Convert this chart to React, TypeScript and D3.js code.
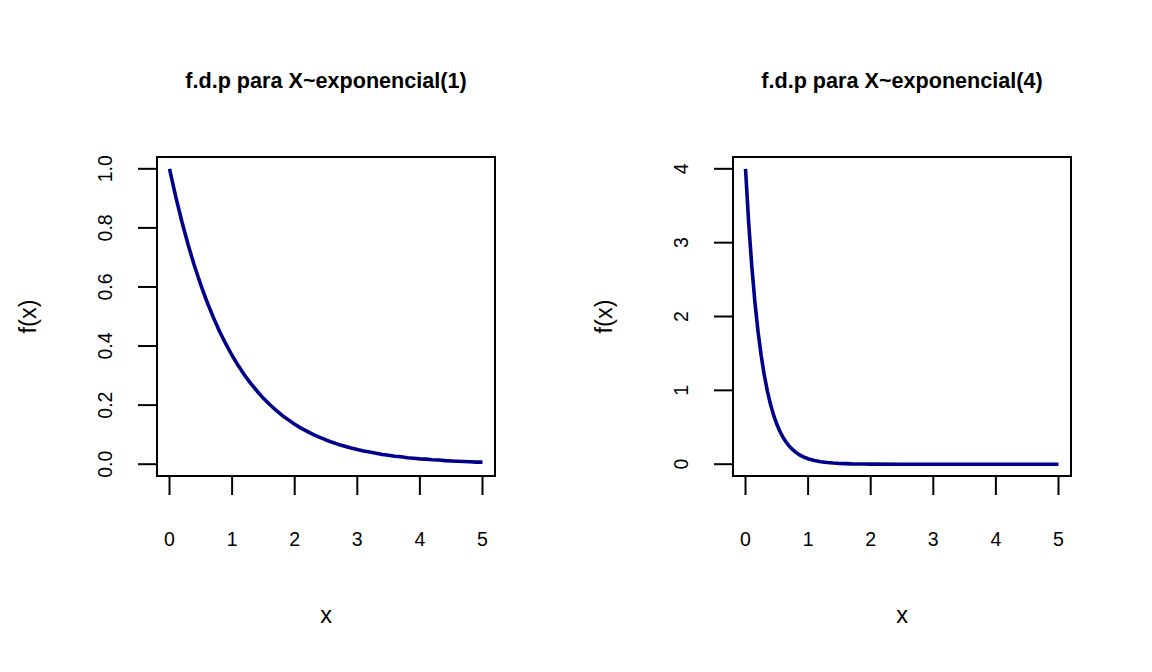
import React from "react";
import * as d3 from "d3";

const titles = ["f.d.p para X~exponencial(1)", "f.d.p para X~exponencial(4)"];
const xLabel = "x";
const yLabel = "f(x)";

const xTicks = [0, 1, 2, 3, 4, 5];
const yTicksLeft = [0, 0.2, 0.4, 0.6, 0.8, 1.0];
const yTicksRight = [0, 1, 2, 3, 4];

const xs1 = [0, 0.1, 0.2, 0.3, 0.4, 0.5, 0.6, 0.7, 0.8, 0.9, 1.0, 1.1, 1.2, 1.3, 1.4, 1.5, 1.6, 1.7, 1.8, 1.9, 2.0, 2.1, 2.2, 2.3, 2.4, 2.5, 2.6, 2.7, 2.8, 2.9, 3.0, 3.1, 3.2, 3.3, 3.4, 3.5, 3.6, 3.7, 3.8, 3.9, 4.0, 4.1, 4.2, 4.3, 4.4, 4.5, 4.6, 4.7, 4.8, 4.9, 5.0];
const ys1 = [1.0, 0.905, 0.819, 0.741, 0.67, 0.607, 0.549, 0.497, 0.449, 0.407, 0.368, 0.333, 0.301, 0.273, 0.247, 0.223, 0.202, 0.183, 0.165, 0.15, 0.135, 0.122, 0.111, 0.1, 0.091, 0.082, 0.074, 0.067, 0.061, 0.055, 0.05, 0.045, 0.041, 0.037, 0.033, 0.03, 0.027, 0.025, 0.022, 0.02, 0.018, 0.017, 0.015, 0.014, 0.012, 0.011, 0.01, 0.009, 0.008, 0.007, 0.007];

const xs2 = [0, 0.05, 0.1, 0.15, 0.2, 0.25, 0.3, 0.35, 0.4, 0.45, 0.5, 0.55, 0.6, 0.65, 0.7, 0.75, 0.8, 0.85, 0.9, 0.95, 1.0, 1.1, 1.2, 1.3, 1.4, 1.5, 1.6, 1.7, 1.8, 1.9, 2.0, 2.5, 3.0, 3.5, 4.0, 4.5, 5.0];
const ys2 = [4.0, 3.275, 2.681, 2.195, 1.797, 1.472, 1.205, 0.986, 0.808, 0.661, 0.541, 0.443, 0.363, 0.297, 0.243, 0.199, 0.163, 0.133, 0.109, 0.09, 0.073, 0.049, 0.033, 0.022, 0.015, 0.01, 0.007, 0.004, 0.003, 0.002, 0.001, 0.0, 0.0, 0.0, 0.0, 0.0, 0.0];

const FONT = "'Liberation Sans', Arial, sans-serif";

type PanelProps = {
  left: number;
  right: number;
  title: string;
  xs: number[];
  ys: number[];
  yTicks: number[];
  yMax: number;
  yFmt: (v: number) => string;
};

function Panel({ left, right, title, xs, ys, yTicks, yMax, yFmt }: PanelProps) {
  const top = 157;
  const bottom = 476;
  const xPad = 5 * 0.04;
  const yPad = yMax * 0.04;
  const x = d3.scaleLinear().domain([0 - xPad, 5 + xPad]).range([left, right]);
  const y = d3.scaleLinear().domain([0 - yPad, yMax + yPad]).range([bottom, top]);
  const pts: [number, number][] = xs.map((v, i) => [v, ys[i]]);
  const line = d3
    .line<[number, number]>()
    .x((d) => x(d[0]))
    .y((d) => y(d[1]));
  const cx = (left + right) / 2;
  const cy = (top + bottom) / 2;
  const tickLen = 19;
  return (
    <g>
      <text x={cx} y={88} textAnchor="middle" fontFamily={FONT} fontWeight="bold" fontSize={21.6} fill="#000">
        {title}
      </text>
      <path d={line(pts) || ""} fill="none" stroke="#00008B" strokeWidth={3.6} strokeLinejoin="round" />
      <rect x={left} y={top} width={right - left} height={bottom - top} fill="none" stroke="#000" strokeWidth={2} />
      <line x1={x(xTicks[0])} x2={x(xTicks[xTicks.length - 1])} y1={bottom} y2={bottom} stroke="#000" strokeWidth={2} />
      {xTicks.map((t) => (
        <g key={"x" + t}>
          <line x1={x(t)} x2={x(t)} y1={bottom} y2={bottom + tickLen} stroke="#000" strokeWidth={2} />
          <text x={x(t)} y={546} textAnchor="middle" fontFamily={FONT} fontSize={19.5} fill="#000">
            {t}
          </text>
        </g>
      ))}
      <line x1={left} x2={left} y1={y(yTicks[0])} y2={y(yTicks[yTicks.length - 1])} stroke="#000" strokeWidth={2} />
      {yTicks.map((t) => (
        <g key={"y" + t}>
          <line x1={left} x2={left - tickLen} y1={y(t)} y2={y(t)} stroke="#000" strokeWidth={2} />
          <text
            transform={`translate(${left - 45},${y(t)}) rotate(-90)`}
            textAnchor="middle"
            fontFamily={FONT}
            fontSize={19.5}
            fill="#000"
          >
            {yFmt(t)}
          </text>
        </g>
      ))}
      <text x={cx} y={623} textAnchor="middle" fontFamily={FONT} fontSize={23.5} fill="#000">
        {xLabel}
      </text>
      <text
        transform={`translate(${left - 121},${cy}) rotate(-90)`}
        textAnchor="middle"
        fontFamily={FONT}
        fontSize={23.5}
        fill="#000"
      >
        {yLabel}
      </text>
    </g>
  );
}

export default function App() {
  return (
    <svg
      width={1152}
      height={672}
      viewBox="0 0 1152 672"
      style={{ position: "absolute", left: 0, top: 0, background: "#fff" }}
    >
      <rect width={1152} height={672} fill="#fff" />
      <Panel left={157} right={495} title={titles[0]} xs={xs1} ys={ys1} yTicks={yTicksLeft} yMax={1} yFmt={(v) => v.toFixed(1)} />
      <Panel left={733} right={1071} title={titles[1]} xs={xs2} ys={ys2} yTicks={yTicksRight} yMax={4} yFmt={(v) => String(v)} />
    </svg>
  );
}
